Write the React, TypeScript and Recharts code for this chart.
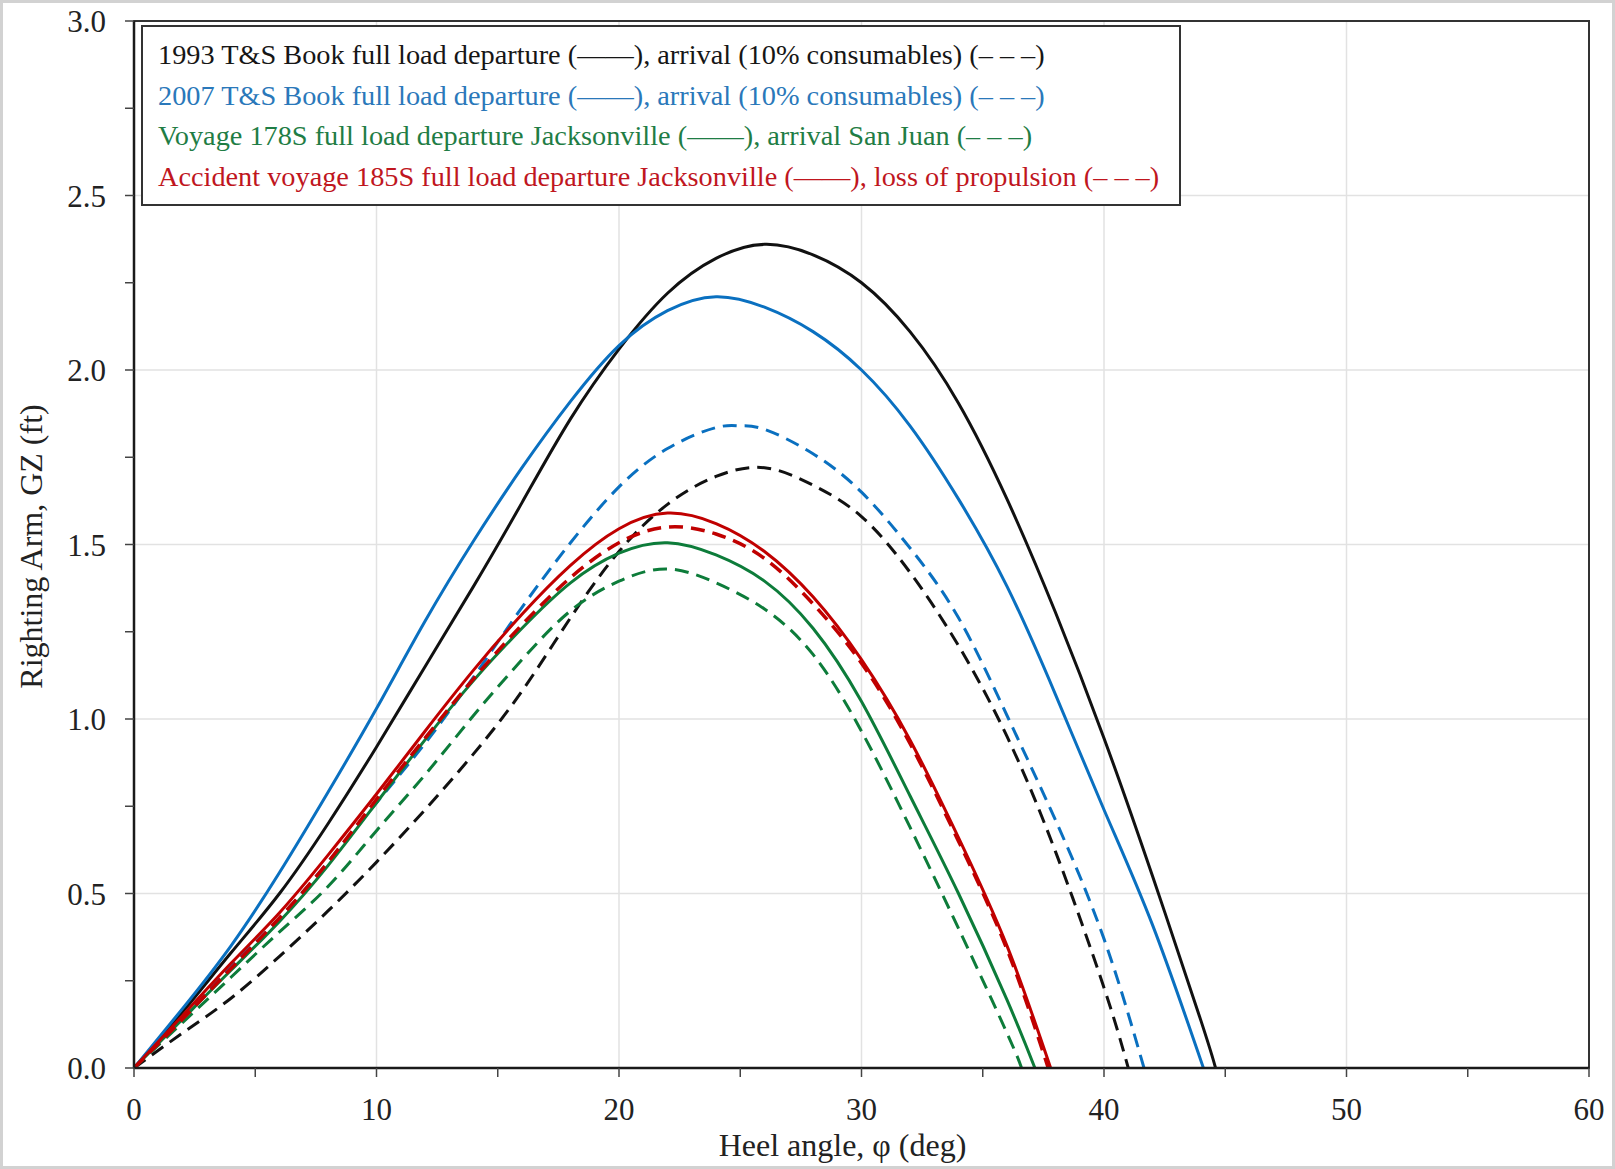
import React from 'react';
import { LineChart, Line, XAxis, YAxis, CartesianGrid, ReferenceArea, Label } from 'recharts';

const SERIF = '"Liberation Serif", "Times New Roman", serif';

// axis ticks
const xTicks = [0, 5, 10, 15, 20, 25, 30, 35, 40, 45, 50, 55, 60];
const xLabelled = [0, 10, 20, 30, 40, 50, 60];
const xGrid = [10, 20, 30, 40, 50];
const yTicks = [0, 0.25, 0.5, 0.75, 1, 1.25, 1.5, 1.75, 2, 2.25, 2.5, 2.75, 3];
const yLabelled = [0, 0.5, 1, 1.5, 2, 2.5, 3];
const yGrid = [0.5, 1, 1.5, 2, 2.5];

// 1993 T&S Book
const ang1993Dep = [0, 2, 4, 6, 8, 10, 12, 14, 16, 18, 20, 22, 24, 26, 28, 30, 32, 34, 36, 38, 40, 42, 44, 44.6];
const gz1993Dep = [0, 0.16, 0.33, 0.5, 0.7, 0.92, 1.15, 1.38, 1.62, 1.86, 2.06, 2.22, 2.32, 2.36, 2.33, 2.25, 2.11, 1.905, 1.63, 1.305, 0.945, 0.55, 0.135, 0];
const ang1993Arr = [0, 2, 4, 6, 8, 10, 12, 14, 16, 18, 20, 22, 24, 26, 28, 30, 32, 34, 36, 38, 40, 41];
const gz1993Arr = [0, 0.1, 0.2, 0.32, 0.45, 0.59, 0.74, 0.9, 1.08, 1.29, 1.48, 1.615, 1.695, 1.72, 1.67, 1.58, 1.42, 1.21, 0.95, 0.62, 0.23, 0];

// 2007 T&S Book
const ang2007Dep = [0, 2, 4, 6, 8, 10, 12, 14, 16, 18, 20, 22, 24, 26, 28, 30, 32, 34, 36, 38, 40, 42, 44.1];
const gz2007Dep = [0, 0.17, 0.35, 0.56, 0.79, 1.03, 1.28, 1.51, 1.72, 1.91, 2.07, 2.17, 2.21, 2.18, 2.11, 2.0, 1.84, 1.63, 1.38, 1.07, 0.74, 0.41, 0];
const ang2007Arr = [0, 2, 4, 6, 8, 10, 12, 14, 16, 18, 20, 22, 24, 25, 26, 28, 30, 32, 34, 36, 38, 40, 41.65];
const gz2007Arr = [0, 0.14, 0.29, 0.43, 0.59, 0.76, 0.93, 1.12, 1.32, 1.505, 1.665, 1.775, 1.835, 1.84, 1.83, 1.76, 1.65, 1.49, 1.29, 1.01, 0.71, 0.37, 0];

// Voyage 178S
const ang178Dep = [0, 2, 4, 6, 8, 10, 12, 14, 16, 18, 20, 22, 24, 26, 28, 30, 32, 34, 36, 37.15];
const gz178Dep = [0, 0.14, 0.28, 0.42, 0.58, 0.76, 0.94, 1.11, 1.26, 1.39, 1.475, 1.505, 1.47, 1.395, 1.26, 1.05, 0.78, 0.5, 0.195, 0];
const ang178Arr = [0, 2, 4, 6, 8, 10, 12, 14, 16, 18, 20, 22, 24, 26, 28, 30, 32, 34, 36, 36.6];
const gz178Arr = [0, 0.13, 0.26, 0.39, 0.52, 0.68, 0.84, 1.01, 1.17, 1.31, 1.395, 1.43, 1.39, 1.315, 1.185, 0.965, 0.69, 0.4, 0.1, 0];

// Accident voyage 185S
const angAccDep = [0, 2, 4, 6, 8, 10, 12, 14, 16, 18, 20, 22, 24, 26, 28, 30, 32, 34, 36, 37.8];
const gzAccDep = [0, 0.15, 0.3, 0.445, 0.61, 0.785, 0.965, 1.14, 1.3, 1.44, 1.545, 1.59, 1.56, 1.48, 1.35, 1.17, 0.94, 0.66, 0.35, 0];
const angAccLop = [0, 2, 4, 6, 8, 10, 12, 14, 16, 18, 20, 22, 24, 26, 28, 30, 32, 34, 36, 37.7];
const gzAccLop = [0, 0.14, 0.285, 0.43, 0.59, 0.77, 0.945, 1.115, 1.27, 1.405, 1.505, 1.55, 1.53, 1.46, 1.33, 1.16, 0.93, 0.65, 0.34, 0];

const BLACK = '#111111';
const BLUE = '#0a70c0';
const GREEN = '#0d7c3a';
const RED = '#c00000';

const toPoints = (angles: number[], gz: number[]) =>
  angles.map((a, i) => ({ angle: a, gz: gz[i] }));

const series = [
  { id: '1993dep', angles: ang1993Dep, gz: gz1993Dep, color: BLACK, dashed: false },
  { id: '2007dep', angles: ang2007Dep, gz: gz2007Dep, color: BLUE, dashed: false },
  { id: '1993arr', angles: ang1993Arr, gz: gz1993Arr, color: BLACK, dashed: true },
  { id: '2007arr', angles: ang2007Arr, gz: gz2007Arr, color: BLUE, dashed: true },
  { id: '178dep', angles: ang178Dep, gz: gz178Dep, color: GREEN, dashed: false },
  { id: '178arr', angles: ang178Arr, gz: gz178Arr, color: GREEN, dashed: true },
  { id: 'accdep', angles: angAccDep, gz: gzAccDep, color: RED, dashed: false },
  { id: 'acclop', angles: angAccLop, gz: gzAccLop, color: RED, dashed: true },
];

const legendRows = [
  { text: '1993 T&S Book full load departure (——), arrival (10% consumables) (– – –)', color: '#161616' },
  { text: '2007 T&S Book full load departure (——), arrival (10% consumables) (– – –)', color: '#2a78ba' },
  { text: 'Voyage 178S full load departure Jacksonville (——), arrival San Juan (– – –)', color: '#1f7d45' },
  { text: 'Accident voyage 185S full load departure Jacksonville (——), loss of propulsion (– – –)', color: '#c0161e' },
];

const XTick = (props: any) => {
  const { x, y, payload } = props;
  if (!xLabelled.includes(payload.value)) return <g />;
  return (
    <text x={x} y={y} dy="0.71em" textAnchor="middle" fontFamily={SERIF} fontSize={31} fill="#222">
      {payload.value}
    </text>
  );
};

const YTick = (props: any) => {
  const { x, y, payload } = props;
  if (!yLabelled.includes(payload.value)) return <g />;
  return (
    <text x={x} y={y} dy="0.36em" textAnchor="end" fontFamily={SERIF} fontSize={31} fill="#222">
      {Number(payload.value).toFixed(1)}
    </text>
  );
};

const XTitle = (props: any) => {
  const vb = props.viewBox || { x: 134, y: 1068, width: 1455, height: 101 };
  return (
    <text x={vb.x + vb.width / 2 - 19} y={vb.y + 88} textAnchor="middle" fontFamily={SERIF} fontSize={32} fill="#222">
      Heel angle, φ (deg)
    </text>
  );
};

const YTitle = (props: any) => {
  const vb = props.viewBox || { x: 0, y: 21, width: 134, height: 1047 };
  const cx = vb.x + 31;
  const cy = vb.y + vb.height / 2 + 2;
  return (
    <text
      x={cx}
      y={cy}
      dy="0.33em"
      textAnchor="middle"
      transform={`rotate(-90, ${cx}, ${cy})`}
      fontFamily={SERIF}
      fontSize={32}
      fill="#222"
    >
      Righting Arm, GZ (ft)
    </text>
  );
};

export default function App() {
  return (
    <div
      style={{
        position: 'absolute',
        left: 0,
        top: 0,
        width: 1615,
        height: 1169,
        background: '#fff',
        boxShadow: 'inset 0 0 0 3px #d2d2d2',
      }}
    >
      <LineChart width={1615} height={1169} margin={{ top: 21, right: 26, bottom: 0, left: 0 }}>
        <CartesianGrid stroke="#e2e2e2" strokeWidth={1.5} verticalValues={xGrid} horizontalValues={yGrid} />
        <XAxis
          type="number"
          dataKey="angle"
          domain={[0, 60]}
          ticks={xTicks}
          interval={0}
          allowDataOverflow
          height={101}
          tickSize={9}
          tickMargin={21}
          tick={<XTick />}
          axisLine={{ stroke: '#1a1a1a', strokeWidth: 2.5 }}
          tickLine={{ stroke: '#444', strokeWidth: 1.5 }}
        >
          <Label content={<XTitle />} />
        </XAxis>
        <YAxis
          type="number"
          domain={[0, 3]}
          ticks={yTicks}
          interval={0}
          allowDataOverflow
          width={134}
          tickSize={9}
          tickMargin={19}
          tick={<YTick />}
          axisLine={{ stroke: '#1a1a1a', strokeWidth: 2.5 }}
          tickLine={{ stroke: '#444', strokeWidth: 1.5 }}
        >
          <Label content={<YTitle />} />
        </YAxis>
        <ReferenceArea x1={0} x2={60} y1={0} y2={3} fill="none" stroke="#333" strokeWidth={2} />
        {series.map((s) => (
          <Line
            key={s.id}
            data={toPoints(s.angles, s.gz)}
            dataKey="gz"
            type="natural"
            stroke={s.color}
            strokeWidth={s.id === 'acclop' ? 3.5 : 3}
            strokeDasharray={s.dashed ? '14 8' : undefined}
            dot={false}
            activeDot={false}
            isAnimationActive={false}
          />
        ))}
      </LineChart>
      <div
        style={{
          position: 'absolute',
          left: 141,
          top: 25,
          width: 1040,
          height: 181,
          boxSizing: 'border-box',
          border: '2px solid #333',
          background: '#fff',
          padding: '8px 0 0 15px',
          fontFamily: SERIF,
          fontSize: 28.3,
          lineHeight: '40.5px',
          whiteSpace: 'nowrap',
        }}
      >
        {legendRows.map((r) => (
          <div key={r.text} style={{ color: r.color }}>
            {r.text}
          </div>
        ))}
      </div>
    </div>
  );
}
